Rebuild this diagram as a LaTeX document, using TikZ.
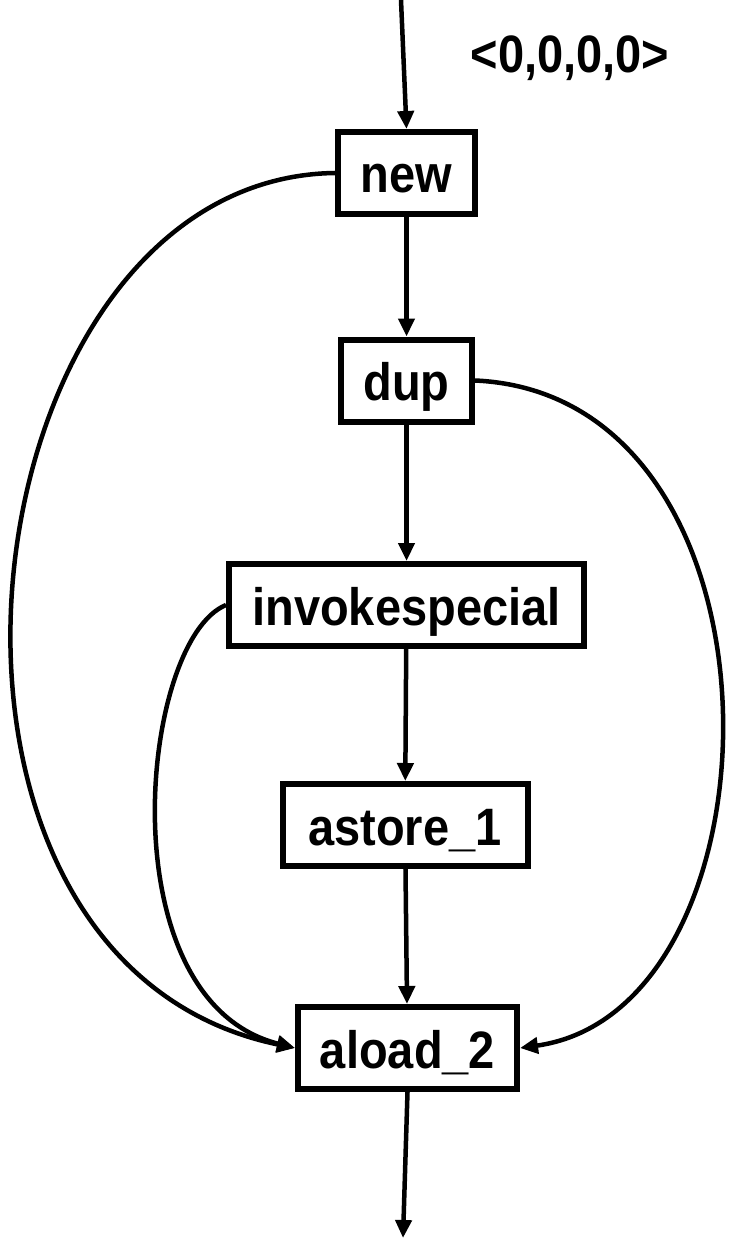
\documentclass[tikz,border=0pt]{standalone}
\usepackage{fontspec}
\setmainfont{Liberation Sans}
\usetikzlibrary{arrows.meta}
% slightly tall lettering used for all labels
\newcommand\tall[1]{\scalebox{1}[1.12]{#1}}
\begin{document}
\begin{tikzpicture}[x=1pt,y=-1pt,
  insn/.style={draw, line width=6pt, rectangle, minimum height=82pt,
    inner xsep=4pt, inner ysep=2pt, text height=40pt, text depth=0pt,
    font=\fontsize{47}{50}\selectfont\bfseries},
  flow/.style={line width=4.5pt, -{Triangle[length=18pt,width=16pt]}},
  tag/.style={font=\fontsize{47}{50}\selectfont\bfseries, inner sep=0pt, anchor=base}]
  \useasboundingbox (0,0) rectangle (729,1241);
  % instruction boxes
  \node[insn, minimum width=137pt] (new) at (406.5,173) {\tall{new}};
  \node[insn, minimum width=131pt] (dup) at (406.5,380.5) {\tall{dup}};
  \node[insn, minimum width=355pt] (inv) at (406.5,605) {\tall{invokespecial}};
  \node[insn, minimum width=245pt] (ast) at (405,825) {\tall{astore\_1}};
  \node[insn, minimum width=219pt] (ald) at (407.5,1048) {\tall{aload\_2}};
  % initial state label
  \node[tag] (state) at (570,73) {\tall{<0,0,0,0>}};
  % entry and exit points
  \coordinate (entry) at (401,0);
  \coordinate (exit) at (403,1238);
  % straight-line flow
  \draw[flow] (entry) -- (new.north);
  \draw[flow] (new) -- (dup);
  \draw[flow] (dup) -- (inv);
  \draw[flow] (inv) -- (ast);
  \draw[flow] (ast) -- (ald);
  \draw[flow] (ald.south) -- (exit);
  % value flow arcs
  \draw[flow] (new.west) .. controls (-40,178) and (-130,960) .. (ald.west);
  \draw[flow] (inv.west) .. controls (140,640) and (105,1000) .. (ald.west);
  \draw[flow] (dup.east) .. controls (800,395) and (790,1010) .. (ald.east);
\end{tikzpicture}
\end{document}
